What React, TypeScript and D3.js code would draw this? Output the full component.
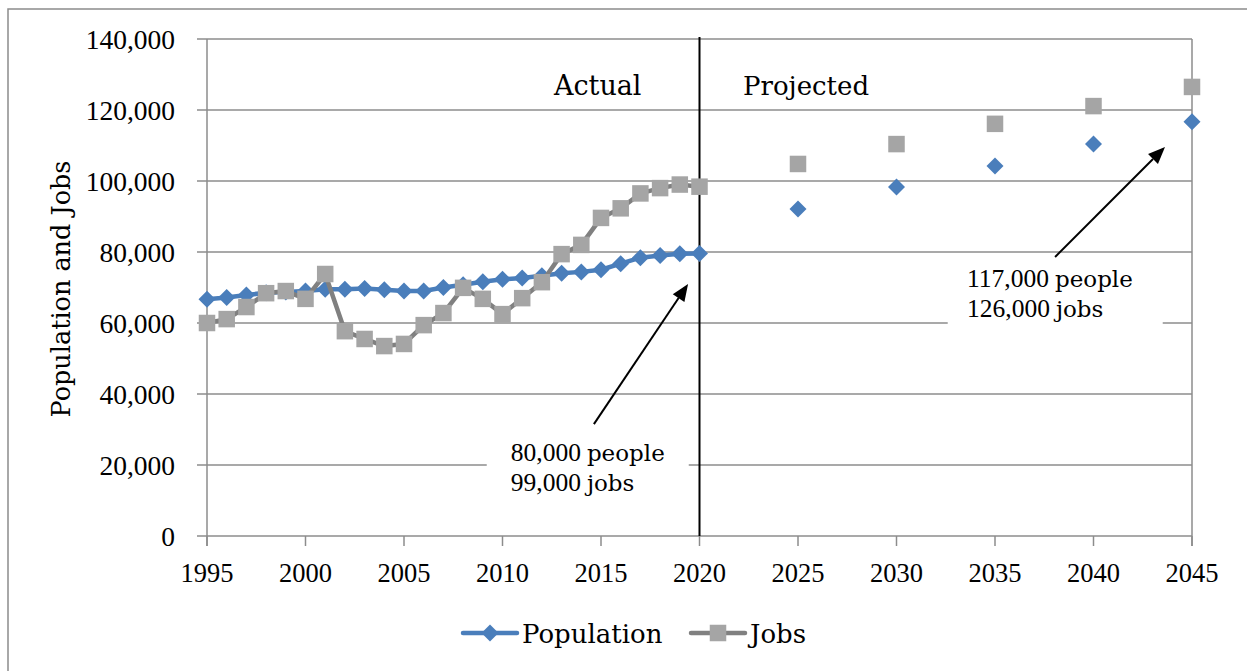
import React from "react";
import * as d3 from "d3";

const actualYears = [1995,1996,1997,1998,1999,2000,2001,2002,2003,2004,2005,2006,2007,2008,2009,2010,2011,2012,2013,2014,2015,2016,2017,2018,2019,2020];
const populationActual = [66700,67200,67900,68500,68700,69000,69500,69500,69700,69400,69000,69000,70000,70800,71600,72300,72700,73300,74000,74400,75000,76700,78400,79000,79500,79600];
const jobsActual = [60000,61100,64500,68400,69000,66800,73800,57700,55500,53500,54100,59400,62800,69900,66800,62500,67000,71500,79400,82000,89600,92300,96500,98000,99000,98400];
const projYears = [2025,2030,2035,2040,2045];
const populationProj = [92100,98300,104200,110400,116700];
const jobsProj = [104800,110400,116100,121100,126500];
const xTicks = [1995,2000,2005,2010,2015,2020,2025,2030,2035,2040,2045];
const yTicks = [0,20000,40000,60000,80000,100000,120000,140000];

const BLUE = "#4a7ebb";
const SQ = "#a5a5a5";
const JLINE = "#808080";
const GRID = "#8c8c8c";
const NUMF = "'Liberation Serif', serif";
const WORDF = "'DejaVu Serif', serif";

function Arrow({ x1, y1, x2, y2 }: { x1: number; y1: number; x2: number; y2: number }) {
  const ang = Math.atan2(y2 - y1, x2 - x1);
  const L = 17, W = 7;
  const bx = x2 - L * Math.cos(ang), by = y2 - L * Math.sin(ang);
  const px = -Math.sin(ang) * W, py = Math.cos(ang) * W;
  return (
    <g>
      <line x1={x1} y1={y1} x2={bx} y2={by} stroke="#000" strokeWidth={2} />
      <path d={`M${x2},${y2}L${bx + px},${by + py}L${bx - px},${by - py}Z`} fill="#000" />
    </g>
  );
}

export default function App() {
  const x = d3.scaleLinear().domain([1995, 2045]).range([207, 1192]);
  const y = d3.scaleLinear().domain([0, 140000]).range([536, 39]);
  const line = d3.line<number>().x((_, i) => x(actualYears[i])).y((d) => y(d));
  const diamond = (cx: number, cy: number, r = 8.5) => `M${cx},${cy - r}L${cx + r},${cy}L${cx},${cy + r}L${cx - r},${cy}Z`;
  const sq = 16.5;

  return (
    <svg width={1247} height={671} style={{ position: "absolute", left: 0, top: 0, background: "#fff" }}>
      <rect x={8} y={9} width={1260} height={700} fill="#fff" stroke={GRID} strokeWidth={1.5} />
      {/* gridlines */}
      {yTicks.map((t) => (
        <g key={t}>
          <line x1={197} x2={x(2045)} y1={y(t)} y2={y(t)} stroke={GRID} strokeWidth={1.5} />
          <text x={175} y={y(t) + 9.5} textAnchor="end" fontFamily={NUMF} fontSize={27.5} fill="#000">
            {d3.format(",")(t)}
          </text>
        </g>
      ))}
      {/* axes */}
      <line x1={x(1995)} x2={x(1995)} y1={y(140000)} y2={546} stroke={GRID} strokeWidth={1.5} />
      <line x1={x(2045)} x2={x(2045)} y1={y(140000)} y2={546} stroke={GRID} strokeWidth={1.5} />
      {xTicks.map((t) => (
        <g key={t}>
          <line x1={x(t)} x2={x(t)} y1={536} y2={546} stroke={GRID} strokeWidth={1.5} />
          <text x={x(t)} y={582} textAnchor="middle" fontFamily={NUMF} fontSize={26.5} fill="#000">
            {t}
          </text>
        </g>
      ))}
      {/* annotation boxes */}
      <rect x={x(2009.2)} y={y(29500)} width={202} height={70} fill="#fff" />
      <rect x={x(2032.6)} y={y(76500)} width={215} height={66} fill="#fff" />
      {/* 2020 divider */}
      <line x1={x(2020)} x2={x(2020)} y1={y(140000) - 2} y2={536} stroke="#000" strokeWidth={2} />
      <text x={x(2012.61)} y={95} fontFamily={WORDF} fontSize={27} fill="#000">Actual</text>
      <text x={x(2022.21)} y={95} fontFamily={WORDF} fontSize={26} fill="#000">Projected</text>
      {/* population */}
      <path d={line(populationActual) || ""} fill="none" stroke={BLUE} strokeWidth={4.5} strokeLinejoin="round" />
      {populationActual.map((v, i) => (
        <path key={"pa" + i} d={diamond(x(actualYears[i]), y(v))} fill={BLUE} />
      ))}
      {populationProj.map((v, i) => (
        <path key={"pp" + i} d={diamond(x(projYears[i]), y(v))} fill={BLUE} />
      ))}
      {/* jobs */}
      <path d={line(jobsActual) || ""} fill="none" stroke={JLINE} strokeWidth={4.5} strokeLinejoin="round" />
      {jobsActual.map((v, i) => (
        <rect key={"ja" + i} x={x(actualYears[i]) - sq / 2} y={y(v) - sq / 2} width={sq} height={sq} fill={SQ} />
      ))}
      {jobsProj.map((v, i) => (
        <rect key={"jp" + i} x={x(projYears[i]) - sq / 2} y={y(v) - sq / 2} width={sq} height={sq} fill={SQ} />
      ))}
      {/* arrows */}
      <Arrow x1={x(2014.64)} y1={y(31500)} x2={x(2019.42)} y2={y(71000)} />
      <Arrow x1={x(2038.05)} y1={y(78600)} x2={x(2043.63)} y2={y(109600)} />
      {/* annotation text */}
      <text x={x(2010.42)} y={461} fill="#000">
        <tspan fontFamily={NUMF} fontSize={25.5}>80,000</tspan>
        <tspan fontFamily={WORDF} fontSize={23} dx={6}>people</tspan>
      </text>
      <text x={x(2010.42)} y={491} fill="#000">
        <tspan fontFamily={NUMF} fontSize={25.5}>99,000</tspan>
        <tspan fontFamily={WORDF} fontSize={23} dx={6}>jobs</tspan>
      </text>
      <text x={x(2033.58)} y={287} fill="#000">
        <tspan fontFamily={NUMF} fontSize={25.5}>117,000</tspan>
        <tspan fontFamily={WORDF} fontSize={23} dx={6}>people</tspan>
      </text>
      <text x={x(2033.58)} y={317} fill="#000">
        <tspan fontFamily={NUMF} fontSize={25.5}>126,000</tspan>
        <tspan fontFamily={WORDF} fontSize={23} dx={6}>jobs</tspan>
      </text>
      {/* y title */}
      <text transform={`translate(70,289) rotate(-90)`} textAnchor="middle" fontFamily={WORDF} fontSize={25.5} fill="#000">
        Population and Jobs
      </text>
      {/* legend */}
      <line x1={463} x2={517} y1={633} y2={633} stroke={BLUE} strokeWidth={4.5} strokeLinecap="round" />
      <path d={diamond(490, 633)} fill={BLUE} />
      <text x={522} y={643} fontFamily={WORDF} fontSize={26} fill="#000">Population</text>
      <line x1={691} x2={745} y1={633} y2={633} stroke={JLINE} strokeWidth={4.5} strokeLinecap="round" />
      <rect x={718 - sq / 2} y={633 - sq / 2} width={sq} height={sq} fill={SQ} />
      <text x={750} y={643} fontFamily={WORDF} fontSize={26} fill="#000">Jobs</text>
    </svg>
  );
}
